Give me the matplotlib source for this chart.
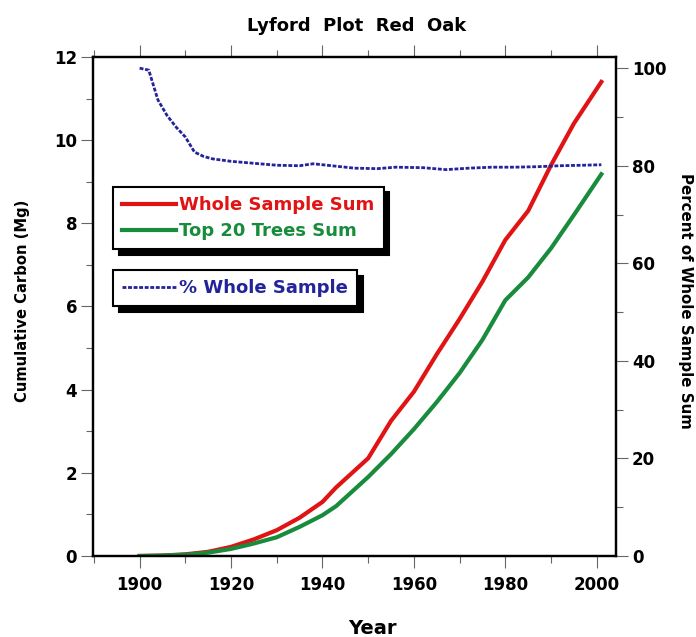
import numpy as np
import matplotlib.pyplot as plt
from matplotlib.ticker import MultipleLocator

plt.rcParams['font.family'] = ['DejaVu Sans']
plt.rcParams['font.weight'] = 'bold'

# carbon sums (Mg)
years_c = [1900, 1905, 1910, 1915, 1920, 1925, 1930, 1935, 1940, 1943, 1945,
           1950, 1955, 1960, 1965, 1970, 1975, 1980, 1985, 1990, 1995, 2001]
whole_sum = [0.0, 0.01, 0.04, 0.1, 0.22, 0.4, 0.62, 0.92, 1.3, 1.65, 1.85,
             2.35, 3.25, 3.95, 4.85, 5.7, 6.6, 7.6, 8.3, 9.4, 10.4, 11.4]
top20_sum = [0.0, 0.01, 0.03, 0.08, 0.17, 0.3, 0.45, 0.7, 0.98, 1.2, 1.4,
             1.9, 2.45, 3.05, 3.7, 4.4, 5.2, 6.15, 6.7, 7.4, 8.2, 9.18]

# percent of whole sample
years_p = [1900, 1902, 1904, 1906, 1908, 1910, 1912, 1914, 1916, 1920, 1925,
           1930, 1935, 1938, 1942, 1947, 1952, 1956, 1962, 1967, 1972, 1977,
           1982, 1987, 1992, 1997, 2001]
percent = [100, 99.6, 93.5, 90.3, 87.9, 85.9, 82.8, 81.9, 81.4, 80.9, 80.5,
           80.1, 80.0, 80.4, 80.0, 79.5, 79.4, 79.7, 79.6, 79.2, 79.5, 79.7,
           79.7, 79.8, 80.0, 80.1, 80.2]

red = '#e01414'
green = '#188c3c'
blue = '#23239a'

fig = plt.figure(figsize=(6.96, 6.37), dpi=100)
ax1 = fig.add_axes([0.1336, 0.1272, 0.7514, 0.7834])
ax2 = ax1.twinx()

ax1.plot(years_c, whole_sum, color=red, lw=3, label='Whole Sample Sum')
ax1.plot(years_c, top20_sum, color=green, lw=3, label='Top 20 Trees Sum')
ax2.plot(years_p, percent, color=blue, lw=2, linestyle=(0, (1.4, 0.6)),
         label='% Whole Sample')

ax1.set_xlim(1889.8, 2004.2)
ax1.set_ylim(0, 12)
ax2.set_ylim(0, 102.3)

ax1.xaxis.set_major_locator(MultipleLocator(20))
ax1.xaxis.set_minor_locator(MultipleLocator(10))
ax1.yaxis.set_major_locator(MultipleLocator(2))
ax1.yaxis.set_minor_locator(MultipleLocator(1))
ax2.yaxis.set_major_locator(MultipleLocator(20))
ax2.yaxis.set_minor_locator(MultipleLocator(10))

for a in (ax1, ax2):
    a.tick_params(which='both', direction='out', labelsize=12, width=0.8,
                  color='#666666')
    a.tick_params(which='major', length=8.4, pad=3)
    a.tick_params(which='minor', length=4.8)
    for s in a.spines.values():
        s.set_linewidth(1.6)
ax1.tick_params(which='both', top=True)
ax1.tick_params(axis='x', which='major', pad=6)

fig.text(357 / 696, 1 - 26 / 637, 'Lyford  Plot  Red  Oak', fontsize=13,
         fontweight='bold', ha='center', va='center')
fig.text(372 / 696, 1 - 629 / 637, 'Year', fontsize=14, fontweight='bold',
         ha='center', va='center')
fig.text(23 / 696, 1 - 301 / 637, 'Cumulative Carbon (Mg)', fontsize=10.6,
         fontweight='bold', rotation=90, ha='center', va='center')
fig.text(686 / 696, 1 - 301 / 637, 'Percent of Whole Sample Sum',
         fontsize=10.8, fontweight='bold', rotation=-90, ha='center',
         va='center')

shadow = {'color': 'black', 'alpha': 1, 'ox': 4, 'oy': -4}
leg_kw = dict(loc='upper left', fontsize=13, frameon=True, fancybox=False,
              shadow=shadow, edgecolor='black', handlelength=3.0,
              handletextpad=0.17, borderpad=0.5, labelspacing=0.45,
              borderaxespad=0, labelcolor='linecolor')
leg1 = ax1.legend(bbox_to_anchor=(0.0382, 0.7395), **leg_kw)
leg1.get_frame().set_linewidth(1.5)
leg2 = ax2.legend(bbox_to_anchor=(0.0382, 0.573), **leg_kw)
leg2.get_frame().set_linewidth(1.5)

fig.savefig('out.png', dpi=100)
